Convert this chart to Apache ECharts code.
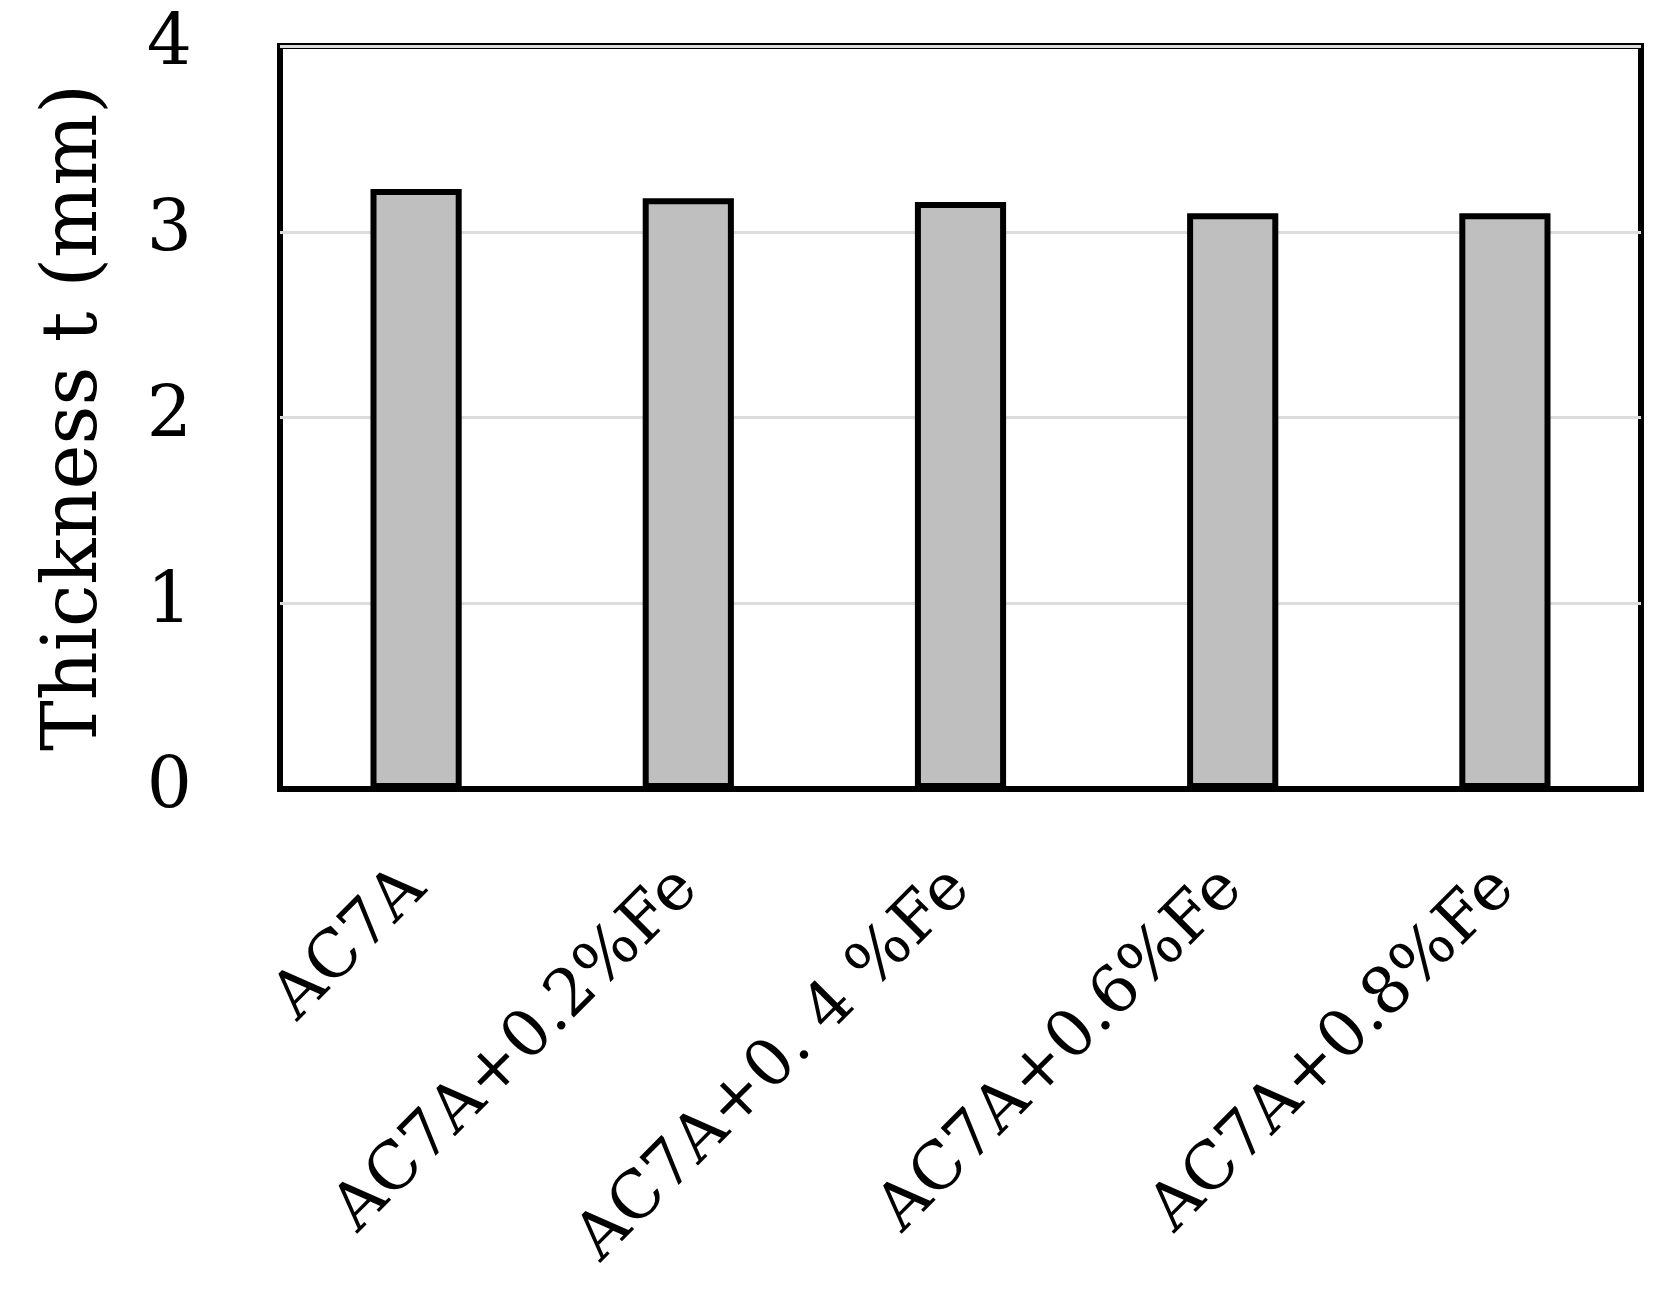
<!DOCTYPE html>
<html>
<head>
<meta charset="utf-8">
<script src="https://cdn.jsdelivr.net/npm/echarts@6/dist/echarts.min.js"></script>
<style>
html,body{margin:0;padding:0;background:#fff;}
#chart{width:1666px;height:1298px;}
</style>
</head>
<body>
<div id="chart"></div>
<script>
var categories = ["AC7A", "AC7A+0.2%Fe", "AC7A+0. 4 %Fe", "AC7A+0.6%Fe", "AC7A+0.8%Fe"];
var thickness = [3.23, 3.18, 3.16, 3.10, 3.10];
var yTicks = [0, 1, 2, 3, 4];
var yAxisTitle = "Thickness t (mm)";

var FONT = "DejaVu Serif";
var chart = echarts.init(document.getElementById('chart'), null, {renderer: 'canvas'});
chart.setOption({
  animation: false,
  backgroundColor: '#ffffff',
  grid: {
    left: 280, right: 25, top: 46, bottom: 509,
    show: true, borderColor: '#000', borderWidth: 6,
    containLabel: false, outerBoundsMode: 'none'
  },
  xAxis: {
    type: 'category',
    data: categories,
    boundaryGap: true,
    axisLine: {show: true, lineStyle: {color: '#000', width: 6}},
    axisTick: {show: false},
    axisLabel: {
      interval: 0, rotate: 45, margin: 90,
      fontFamily: FONT, fontSize: 65, color: '#000'
    },
    splitLine: {show: false}
  },
  yAxis: {
    type: 'value',
    min: yTicks[0], max: yTicks[yTicks.length - 1], interval: 1,
    name: yAxisTitle,
    nameLocation: 'middle',
    nameGap: 166,
    nameTextStyle: {fontFamily: FONT, fontSize: 76, color: '#000'},
    axisLine: {show: false},
    axisTick: {show: false},
    axisLabel: {margin: 88, fontFamily: FONT, fontSize: 71, color: '#000'},
    splitLine: {show: true, lineStyle: {color: '#dcdcdc', width: 3}}
  },
  series: [{
    type: 'bar',
    data: thickness,
    barWidth: '33.5%',
    itemStyle: {color: '#bfbfbf', borderColor: '#000', borderWidth: 6}
  }]
});
</script>
</body>
</html>
